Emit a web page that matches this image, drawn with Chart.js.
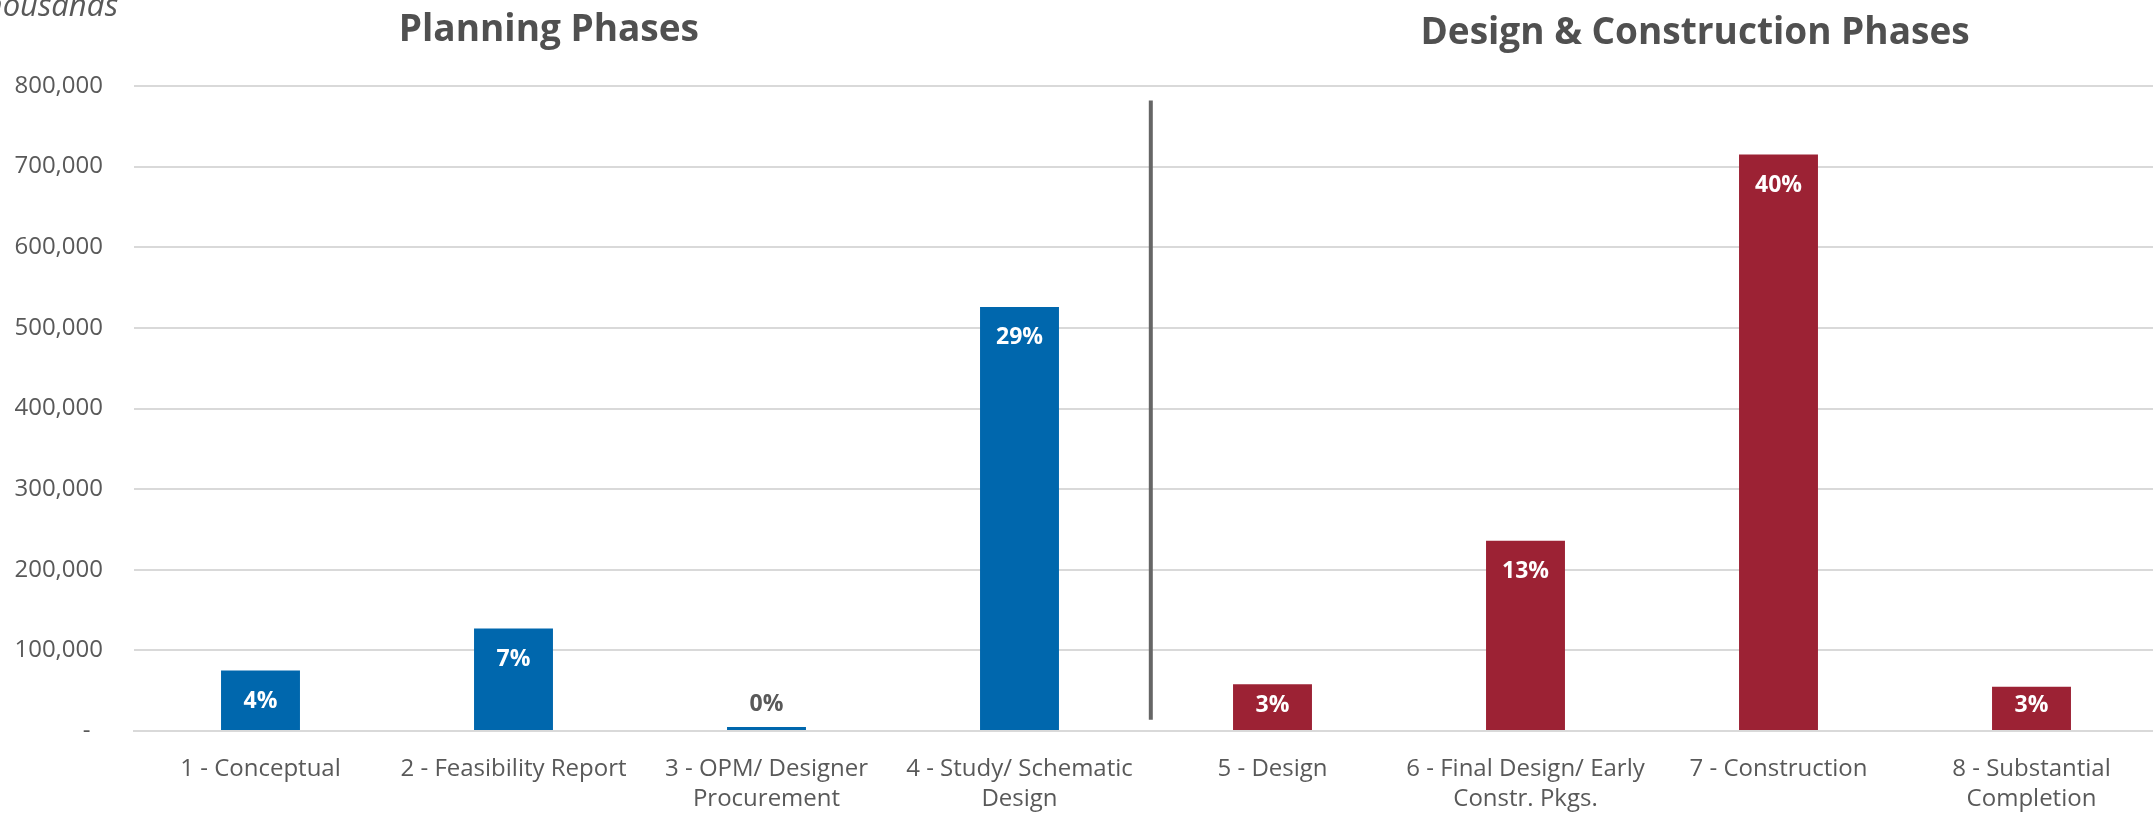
<!DOCTYPE html>
<html lang="en">
<head>
    <meta charset="UTF-8">
    <title>Planning vs Design &amp; Construction Phases</title>
    <script src="https://cdn.jsdelivr.net/npm/chart.js"></script>
    <style>
        html, body {
            margin: 0;
            padding: 0;
            background: #ffffff;
            overflow: hidden;
        }
        /* plot area runs a few px past the right edge in the source */
        #wrap {
            width: 2158px;
            height: 814px;
            position: relative;
        }
    </style>
</head>
<body>
    <div id="wrap">
        <canvas id="phaseChart"></canvas>
    </div>

    <script>
        // categories and values (thousands)
        const phases = [
            ['1 - Conceptual'],
            ['2 - Feasibility Report'],
            ['3 - OPM/ Designer', 'Procurement'],
            ['4 - Study/ Schematic', 'Design'],
            ['5 - Design'],
            ['6 - Final Design/ Early', 'Constr. Pkgs.'],
            ['7 - Construction'],
            ['8 - Substantial', 'Completion']
        ];
        const amounts = [75000, 127000, 5000, 526000, 58000, 236000, 715000, 55000];
        const shares = ['4%', '7%', '0%', '29%', '3%', '13%', '40%', '3%'];
        const groupTitles = ['Planning Phases', 'Design & Construction Phases'];
        const yTicks = [0, 100000, 200000, 300000, 400000, 500000, 600000, 700000, 800000];

        const BLUE = '#0067ad';
        const RED = '#9c2234';
        const GREY_TEXT = '#595959';
        const FONT = "'Open Sans', 'Noto Sans', sans-serif";

        const barColors = amounts.map((v, i) => i < 4 ? BLUE : RED);

        // separator line between the two groups, and title centres (in category units)
        const separatorAt = 3.519;
        const separatorFrom = 14000;
        const separatorTo = 782000;
        const titleCentres = [1.14, 5.67];

        const decorations = {
            id: 'decorations',
            afterDatasetsDraw(chart) {
                const ctx = chart.ctx;
                const x = chart.scales.x;
                const y = chart.scales.y;
                const meta = chart.getDatasetMeta(0);

                // bar labels (inside end, or above when the bar is too short)
                ctx.save();
                ctx.textAlign = 'center';
                ctx.textBaseline = 'middle';
                ctx.font = 'bold 23px ' + FONT;
                meta.data.forEach((bar, i) => {
                    const h = bar.base - bar.y;
                    if (h < 40) {
                        ctx.fillStyle = GREY_TEXT;
                        ctx.fillText(shares[i], bar.x, bar.y - 23);
                    } else {
                        ctx.fillStyle = '#ffffff';
                        ctx.fillText(shares[i], bar.x, bar.y + Math.min(31, h - 25));
                    }
                });
                ctx.restore();

                // vertical divider
                const sx = x.getPixelForValue(3) + (x.getPixelForValue(4) - x.getPixelForValue(3)) * (separatorAt - 3);
                ctx.save();
                ctx.strokeStyle = '#666666';
                ctx.lineWidth = 4;
                ctx.beginPath();
                ctx.moveTo(sx, y.getPixelForValue(separatorTo));
                ctx.lineTo(sx, y.getPixelForValue(separatorFrom));
                ctx.stroke();
                ctx.restore();

                // group titles
                const step = x.getPixelForValue(1) - x.getPixelForValue(0);
                ctx.save();
                ctx.fillStyle = '#505050';
                ctx.font = 'bold 37px ' + FONT;
                ctx.textAlign = 'center';
                ctx.textBaseline = 'alphabetic';
                ctx.fillText(groupTitles[0], x.getPixelForValue(0) + step * titleCentres[0], 41);
                ctx.fillText(groupTitles[1], x.getPixelForValue(0) + step * titleCentres[1], 44);

                // unit note, cut off at the top-left corner like the source
                ctx.fillStyle = GREY_TEXT;
                ctx.font = 'italic 31px ' + FONT;
                ctx.textAlign = 'right';
                ctx.fillText('Thousands', 118, 16);
                ctx.restore();
            }
        };

        const ctx = document.getElementById('phaseChart').getContext('2d');
        new Chart(ctx, {
            type: 'bar',
            data: {
                labels: phases,
                datasets: [{
                    data: amounts,
                    backgroundColor: barColors,
                    borderWidth: 0,
                    categoryPercentage: 1,
                    barPercentage: 0.312
                }]
            },
            options: {
                responsive: true,
                maintainAspectRatio: false,
                animation: false,
                layout: {
                    padding: { top: 86, right: 0, bottom: 0, left: 0 }
                },
                plugins: {
                    legend: { display: false },
                    tooltip: { enabled: false }
                },
                scales: {
                    x: {
                        grid: { display: false, drawTicks: false },
                        border: { display: true, color: '#d9d9d9', width: 2 },
                        ticks: {
                            color: GREY_TEXT,
                            font: { family: FONT, size: 24, lineHeight: 1.25 },
                            padding: 23,
                            maxRotation: 0,
                            autoSkip: false
                        },
                        afterFit(scale) { scale.height = 83; }
                    },
                    y: {
                        min: 0,
                        max: 800000,
                        afterBuildTicks(scale) {
                            scale.ticks = yTicks.map(v => ({ value: v }));
                        },
                        grid: { color: '#d9d9d9', lineWidth: 2, drawTicks: false },
                        border: { display: false },
                        ticks: {
                            color: GREY_TEXT,
                            font: { family: FONT, size: 24 },
                            padding: 31,
                            callback: v => v === 0 ? '-  ' : v.toLocaleString('en-US')
                        },
                        afterFit(scale) { scale.width = 134; }
                    }
                }
            },
            plugins: [decorations]
        });
    </script>
</body>
</html>
